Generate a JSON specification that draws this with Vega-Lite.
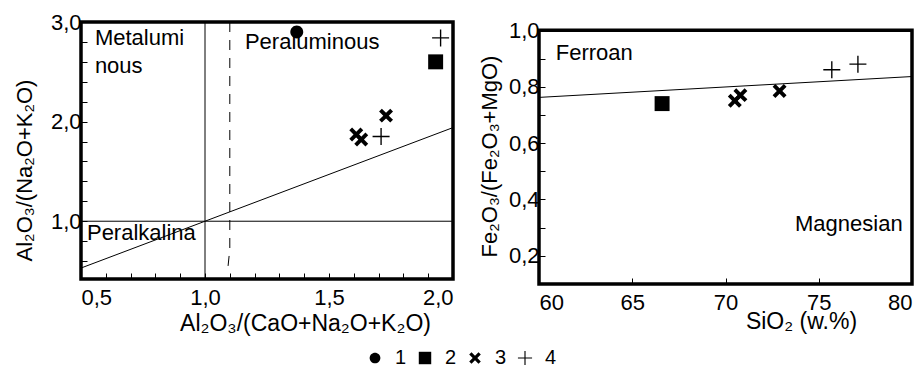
{
  "$schema": "https://vega.github.io/schema/vega-lite/v6.json",
  "padding": {"top": 11, "left": 13, "right": 0, "bottom": 0},
  "background": "white",
  "datasets": {
    "points": [
      {"panel": "A", "group": "1", "x": 1.37, "y": 2.9},
      {"panel": "A", "group": "2", "x": 1.93, "y": 2.6},
      {"panel": "A", "group": "3", "x": 1.73, "y": 2.06},
      {"panel": "A", "group": "3", "x": 1.61, "y": 1.87},
      {"panel": "A", "group": "3", "x": 1.63, "y": 1.82},
      {"panel": "A", "group": "4", "x": 1.95, "y": 2.84},
      {"panel": "A", "group": "4", "x": 1.71, "y": 1.85},
      {"panel": "B", "group": "2", "x": 66.6, "y": 0.74},
      {"panel": "B", "group": "3", "x": 70.5, "y": 0.75},
      {"panel": "B", "group": "3", "x": 70.8, "y": 0.77},
      {"panel": "B", "group": "3", "x": 72.9, "y": 0.785},
      {"panel": "B", "group": "4", "x": 75.7, "y": 0.86},
      {"panel": "B", "group": "4", "x": 77.1, "y": 0.88}
    ],
    "lines": [
      {"panel": "A", "line": "diag", "dash": 0, "ord": 1, "x": 0.5, "y": 0.53},
      {"panel": "A", "line": "diag", "dash": 0, "ord": 2, "x": 2.0, "y": 1.94},
      {"panel": "A", "line": "h", "dash": 0, "ord": 1, "x": 0.5, "y": 1.0},
      {"panel": "A", "line": "h", "dash": 0, "ord": 2, "x": 2.0, "y": 1.0},
      {"panel": "A", "line": "v", "dash": 0, "ord": 1, "x": 1.0, "y": 0.42},
      {"panel": "A", "line": "v", "dash": 0, "ord": 2, "x": 1.0, "y": 3.0},
      {"panel": "A", "line": "dashv", "dash": 1, "ord": 1, "x": 1.1, "y": 3.0},
      {"panel": "A", "line": "dashv", "dash": 1, "ord": 2, "x": 1.1, "y": 0.72},
      {"panel": "A", "line": "dashv", "dash": 1, "ord": 3, "x": 1.093, "y": 0.55},
      {"panel": "B", "line": "fm", "dash": 0, "ord": 1, "x": 60, "y": 0.762},
      {"panel": "B", "line": "fm", "dash": 0, "ord": 2, "x": 80, "y": 0.836}
    ],
    "labels": [
      {"panel": "A", "label": "Metalumi", "x": 0.556, "y": 2.84},
      {"panel": "A", "label": "nous", "x": 0.556, "y": 2.56},
      {"panel": "A", "label": "Peraluminous", "x": 1.161, "y": 2.8},
      {"panel": "A", "label": "Peralkalina", "x": 0.524, "y": 0.88},
      {"panel": "B", "label": "Ferroan", "x": 60.9, "y": 0.918},
      {"panel": "B", "label": "Magnesian", "x": 79.5, "y": 0.313}
    ],
    "frame": [
      {"panel": "A", "x": 0.5, "x2": 2.0, "y": 0.42, "y2": 3.0},
      {"panel": "B", "x": 60, "x2": 80, "y": 0.1, "y2": 1.0}
    ]
  },
  "hconcat": [
    {
      "width": 372,
      "height": 257,
      "encoding": {
        "x": {
          "field": "x", "type": "quantitative",
          "scale": {"domain": [0.5, 2.0], "nice": false, "zero": false},
          "axis": {
            "values": [0.5, 0.6, 0.7, 0.8, 0.9, 1.0, 1.1, 1.2, 1.3, 1.4, 1.5, 1.6, 1.7, 1.8, 1.9, 2.0],
            "labelExpr": "abs(datum.value*2-round(datum.value*2))<0.001 ? replace(format(datum.value,'.1f'),'.',',') : ''",
            "labelFlush": true,
            "labelOverlap": false,
            "labelPadding": 14,
            "title": "Al₂O₃/(CaO+Na₂O+K₂O)",
            "titleFontSize": 23,
            "titleX": 224, "titleY": 44, "titleAlign": "center", "titleBaseline": "middle", "titleAnchor": null
          }
        },
        "y": {
          "field": "y", "type": "quantitative",
          "scale": {"domain": [0.42, 3.0], "nice": false, "zero": false},
          "axis": {
            "values": [0.6, 0.8, 1.0, 1.2, 1.4, 1.6, 1.8, 2.0, 2.2, 2.4, 2.6, 2.8, 3.0],
            "labelExpr": "abs(datum.value-round(datum.value))<0.001 ? replace(format(datum.value,'.1f'),'.',',') : ''",
            "labelOverlap": false,
            "labelPadding": 6,
            "title": "Al₂O₃/(Na₂O+K₂O)",
            "titleX": -57, "titleY": 148, "titleAlign": "center", "titleBaseline": "middle", "titleAnchor": null, "titleAngle": -90
          }
        }
      },
      "layer": [
        {
          "data": {"name": "frame"},
          "transform": [{"filter": "datum.panel === 'A'"}],
          "mark": {"type": "rect", "fill": null, "fillOpacity": 0, "stroke": "black", "strokeWidth": 3.5, "clip": false},
          "encoding": {"x2": {"field": "x2"}, "y2": {"field": "y2"}}
        },
        {
          "data": {"name": "lines"},
          "transform": [{"filter": "datum.panel === 'A' && datum.dash === 0"}],
          "mark": {"type": "line", "color": "black", "strokeWidth": 1},
          "encoding": {"detail": {"field": "line"}, "order": {"field": "ord"}}
        },
        {
          "data": {"name": "lines"},
          "transform": [{"filter": "datum.panel === 'A' && datum.dash === 1"}],
          "mark": {"type": "line", "color": "black", "strokeWidth": 1, "strokeDash": [10, 8]},
          "encoding": {"detail": {"field": "line"}, "order": {"field": "ord"}}
        },
        {
          "data": {"name": "labels"},
          "transform": [{"filter": "datum.panel === 'A'"}],
          "mark": {"type": "text", "align": "left", "baseline": "middle", "fontSize": 22, "font": "Liberation Sans", "color": "black"},
          "encoding": {"text": {"field": "label"}}
        },
        {
          "data": {"name": "points"},
          "transform": [{"filter": "datum.panel === 'A'"}],
          "mark": {"type": "point", "filled": true, "color": "black", "opacity": 1, "size": 289},
          "encoding": {
            "shape": {
              "field": "group", "type": "nominal",
              "scale": {
                "domain": ["1", "2", "3", "4"],
                "range": [
                  "M-0.76,0A0.76,0.76,0,1,0,0.76,0A0.76,0.76,0,1,0,-0.76,0Z",
                  "M-0.88,-0.88H0.88V0.88H-0.88Z",
                  "M-0.495,-0.82L0,-0.325L0.495,-0.82L0.82,-0.495L0.325,0L0.82,0.495L0.495,0.82L0,0.325L-0.495,0.82L-0.82,0.495L-0.325,0L-0.82,-0.495Z",
                  "M-1,-0.08H-0.08V-1H0.08V-0.08H1V0.08H0.08V1H-0.08V0.08H-1Z"
                ]
              },
              "legend": {
                "orient": "none", "legendX": 284, "legendY": 326, "direction": "horizontal", "title": null,
                "symbolSize": 200, "symbolFillColor": "black", "symbolStrokeColor": "black", "symbolStrokeWidth": 0,
                "labelFontSize": 20, "labelFont": "Liberation Sans", "labelColor": "black",
                "labelOffset": 10, "columnPadding": 8, "padding": 0
              }
            }
          }
        }
      ]
    },
    {
      "width": 373,
      "height": 262,
      "encoding": {
        "x": {
          "field": "x", "type": "quantitative",
          "scale": {"domain": [60, 80], "nice": false, "zero": false},
          "axis": {
            "values": [60, 65, 70, 75, 80],
            "labelFlush": true,
            "labelOverlap": false,
            "labelPadding": 14,
            "title": "SiO₂  (w.%)",
            "titleFontSize": 23,
            "titleX": 262, "titleY": 37, "titleAlign": "center", "titleBaseline": "middle", "titleAnchor": null
          }
        },
        "y": {
          "field": "y", "type": "quantitative",
          "scale": {"domain": [0.1, 1.0295], "nice": false, "zero": false},
          "axis": {
            "values": [0.2, 0.3, 0.4, 0.5, 0.6, 0.7, 0.8, 0.9, 1.0],
            "labelExpr": "round(datum.value*10)%2 === 0 ? replace(format(datum.value,'.1f'),'.',',') : ''",
            "labelOverlap": false,
            "labelPadding": 6,
            "title": "Fe₂O₃/(Fe₂O₃+MgO)",
            "titleX": -50, "titleY": 134, "titleAlign": "center", "titleBaseline": "middle", "titleAnchor": null, "titleAngle": -90
          }
        }
      },
      "layer": [
        {
          "data": {"name": "frame"},
          "transform": [{"filter": "datum.panel === 'B'"}],
          "mark": {"type": "rect", "fill": null, "fillOpacity": 0, "stroke": "black", "strokeWidth": 3.5, "clip": false},
          "encoding": {"x2": {"field": "x2"}, "y2": {"field": "y2"}}
        },
        {
          "data": {"name": "lines"},
          "transform": [{"filter": "datum.panel === 'B'"}],
          "mark": {"type": "line", "color": "black", "strokeWidth": 1},
          "encoding": {"detail": {"field": "line"}, "order": {"field": "ord"}}
        },
        {
          "data": {"name": "labels"},
          "transform": [{"filter": "datum.panel === 'B' && datum.label !== 'Magnesian'"}],
          "mark": {"type": "text", "align": "left", "baseline": "middle", "fontSize": 22, "font": "Liberation Sans", "color": "black"},
          "encoding": {"text": {"field": "label"}}
        },
        {
          "data": {"name": "labels"},
          "transform": [{"filter": "datum.label === 'Magnesian'"}],
          "mark": {"type": "text", "align": "right", "baseline": "middle", "fontSize": 22, "font": "Liberation Sans", "color": "black"},
          "encoding": {"text": {"field": "label"}}
        },
        {
          "data": {"name": "points"},
          "transform": [{"filter": "datum.panel === 'B'"}],
          "mark": {"type": "point", "filled": true, "color": "black", "opacity": 1, "size": 289},
          "encoding": {
            "shape": {"field": "group", "type": "nominal"}
          }
        }
      ]
    }
  ],
  "spacing": 22,
  "resolve": {"scale": {"shape": "shared"}, "legend": {"shape": "shared"}},
  "config": {
    "view": {"stroke": null},
    "axis": {
      "domain": false,
      "grid": false,
      "tickSize": -6,
      "tickColor": "black",
      "tickWidth": 1,
      "labelFont": "Liberation Sans",
      "labelFontSize": 22,
      "labelColor": "black",
      "titleFont": "Liberation Sans",
      "titleFontSize": 22,
      "titleFontWeight": "normal",
      "titleColor": "black"
    },
    "text": {"font": "Liberation Sans"}
  }
}
